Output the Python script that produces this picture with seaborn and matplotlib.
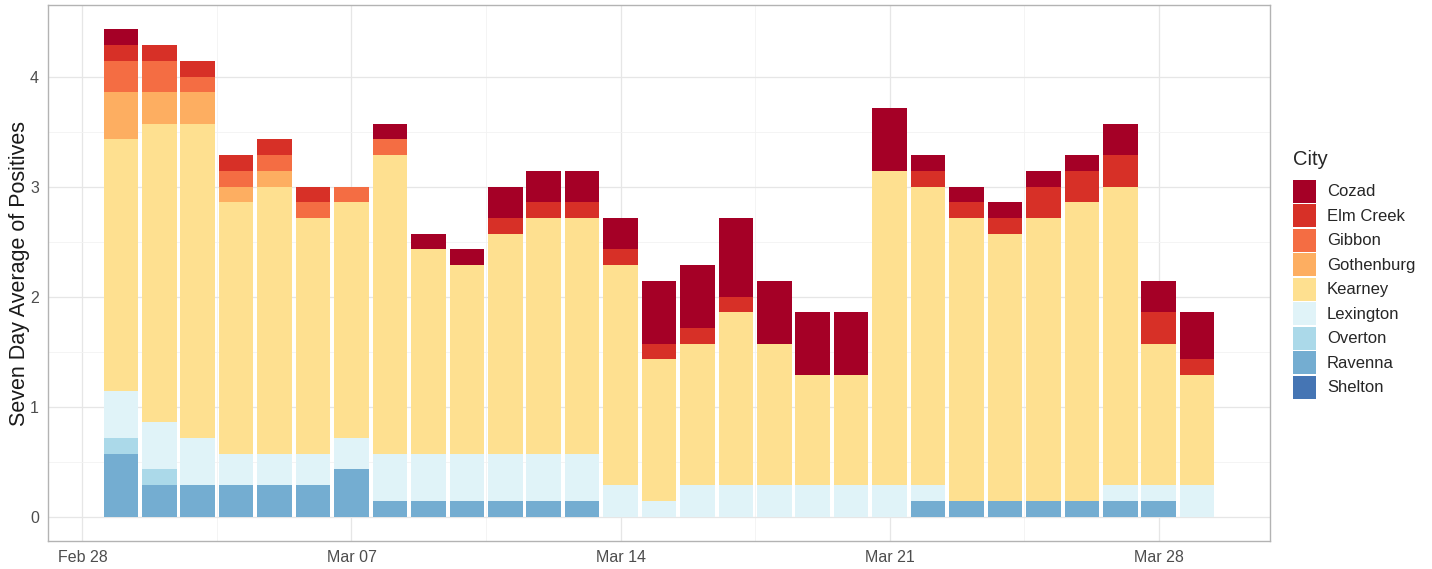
import numpy as np
import pandas as pd
import matplotlib
matplotlib.use("Agg")
import matplotlib.pyplot as plt
import matplotlib.dates as mdates
from matplotlib.patches import Patch
import seaborn as sns

# daily dates, Mar 1 .. Mar 29
dates = pd.date_range("2021-03-01", "2021-03-29", freq="D")

# positives in the trailing seven days per city (plotted as count / 7)
cozad      = [1, 0, 0, 0, 0, 0, 0, 1, 1, 1, 2, 2, 2, 2, 4, 4, 5, 4, 4, 4, 4, 1, 1, 1, 1, 1, 2, 2, 3]
elm_creek  = [1, 1, 1, 1, 1, 1, 0, 0, 0, 0, 1, 1, 1, 1, 1, 1, 1, 0, 0, 0, 0, 1, 1, 1, 2, 2, 2, 2, 1]
gibbon     = [2, 2, 1, 1, 1, 1, 1, 1, 0, 0, 0, 0, 0, 0, 0, 0, 0, 0, 0, 0, 0, 0, 0, 0, 0, 0, 0, 0, 0]
gothenburg = [3, 2, 2, 1, 1, 0, 0, 0, 0, 0, 0, 0, 0, 0, 0, 0, 0, 0, 0, 0, 0, 0, 0, 0, 0, 0, 0, 0, 0]
kearney    = [16, 19, 20, 16, 17, 15, 15, 19, 13, 12, 14, 15, 15, 14, 9, 9, 11, 9, 7, 7, 20, 19, 18, 17, 18, 19, 19, 9, 7]
lexington  = [3, 3, 3, 2, 2, 2, 2, 3, 3, 3, 3, 3, 3, 2, 1, 2, 2, 2, 2, 2, 2, 1, 0, 0, 0, 0, 1, 1, 2]
overton    = [1, 1, 0, 0, 0, 0, 0, 0, 0, 0, 0, 0, 0, 0, 0, 0, 0, 0, 0, 0, 0, 0, 0, 0, 0, 0, 0, 0, 0]
ravenna    = [4, 2, 2, 2, 2, 2, 3, 1, 1, 1, 1, 1, 1, 0, 0, 0, 0, 0, 0, 0, 0, 1, 1, 1, 1, 1, 1, 1, 0]
shelton    = [0] * 29

cities = ["Cozad", "Elm Creek", "Gibbon", "Gothenburg", "Kearney",
          "Lexington", "Overton", "Ravenna", "Shelton"]
colors = ["#A50026", "#D73027", "#F46D43", "#FDAE61", "#FEE090",
          "#E0F3F8", "#ABD9E9", "#74ADD1", "#4575B4"]

tick_dates = ["2021-02-28", "2021-03-07", "2021-03-14", "2021-03-21", "2021-03-28"]

wide = pd.DataFrame({
    "Cozad": cozad, "Elm Creek": elm_creek, "Gibbon": gibbon,
    "Gothenburg": gothenburg, "Kearney": kearney, "Lexington": lexington,
    "Overton": overton, "Ravenna": ravenna, "Shelton": shelton,
}, index=dates) / 7.0

# stack from the bottom (Shelton) up to the top (Cozad)
cum = wide[cities[::-1]].cumsum(axis=1)
xnum = mdates.date2num(dates)

sns.set_theme(style="white")
plt.rcParams["font.family"] = ["Liberation Sans", "DejaVu Sans"]

fig = plt.figure(figsize=(14.32, 5.69), dpi=100)
ax = fig.add_axes([48 / 1432, 1 - 541 / 569, (1270 - 48) / 1432, (541 - 5) / 569])

# tallest (cumulative) first, each lower layer drawn over it
for city, col in zip(cities, colors):
    sns.barplot(x=xnum, y=cum[city].values, native_scale=True, orient="x",
                width=0.9, color=col, saturation=1, errorbar=None,
                linewidth=0, ax=ax)

# ggplot-like expansion
lo, hi = xnum[0] - 0.45, xnum[-1] + 0.45
pad = 0.05 * (hi - lo)
ax.set_xlim(lo - pad, hi + pad)
top = cum["Cozad"].max()
ax.set_ylim(-0.05 * top, top * 1.05)

ticks = mdates.date2num(pd.to_datetime(tick_dates))
ax.set_xticks(ticks)
ax.set_xticklabels(pd.to_datetime(tick_dates).strftime("%b %d"))
ax.set_xticks(ticks[:-1] + 3.5, minor=True)
ax.set_yticks([0, 1, 2, 3, 4])
ax.set_yticklabels(["0", "1", "2", "3", "4"])
ax.set_yticks([0.5, 1.5, 2.5, 3.5], minor=True)

ax.set_axisbelow(True)
ax.grid(which="major", color="#E6E6E6", linewidth=0.9)
ax.grid(which="minor", color="#F2F2F2", linewidth=0.6)
for s in ax.spines.values():
    s.set_color("#B3B3B3")
    s.set_linewidth(1.0)
ax.tick_params(axis="both", which="major", length=3.5, width=0.8, color="#B3B3B3",
               labelcolor="#4D4D4D", labelsize=11.5, pad=3)
ax.tick_params(axis="both", which="minor", length=0)
ax.set_xlabel("")
ax.set_ylabel("Seven Day Average of Positives", fontsize=15.5, color="#1A1A1A", labelpad=0)

handles = [Patch(facecolor=c, edgecolor="none", label=n) for n, c in zip(cities, colors)]
leg = fig.legend(handles=handles, title="City", loc="upper left",
                 bbox_to_anchor=(1293 / 1432, 1 - 150 / 569), frameon=False,
                 fontsize=12, title_fontsize=14.5, handlelength=1.38, handleheight=1.746,
                 labelspacing=0.09, handletextpad=0.66, alignment="left", borderaxespad=0,
                 borderpad=0)
# more room between the title and the keys
leg._legend_box.sep = 7.6

fig.savefig("out.png", dpi=100)
